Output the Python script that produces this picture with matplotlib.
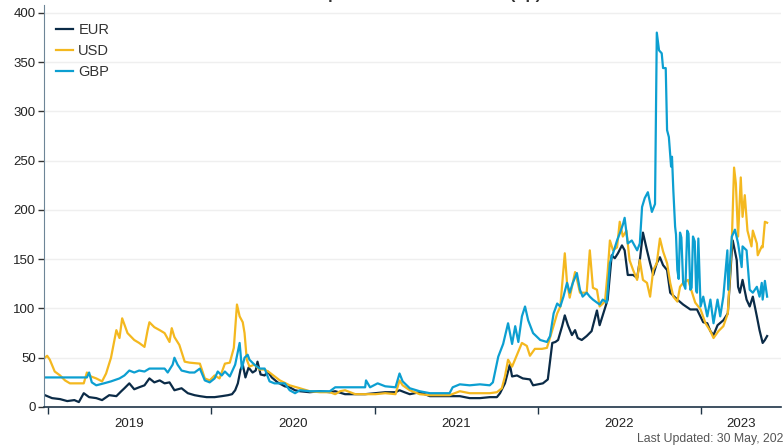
import matplotlib
matplotlib.use("Agg")
import matplotlib.pyplot as plt
import pandas as pd

# spreads in bp
eur_dates = [
    "2018-12-25", "2019-01-10", "2019-01-28", "2019-02-13", "2019-03-01", "2019-03-11",
    "2019-03-22", "2019-04-03", "2019-04-19", "2019-05-02", "2019-05-18", "2019-06-03",
    "2019-06-14", "2019-06-21", "2019-07-02", "2019-07-13", "2019-07-24", "2019-08-05",
    "2019-08-16", "2019-08-27", "2019-09-08", "2019-09-19", "2019-09-30", "2019-10-11",
    "2019-10-27", "2019-11-10", "2019-11-25", "2019-12-07", "2019-12-22", "2020-01-09",
    "2020-01-25", "2020-02-08", "2020-02-17", "2020-02-24", "2020-03-01", "2020-03-07",
    "2020-03-12", "2020-03-18", "2020-03-25", "2020-04-03", "2020-04-10", "2020-04-14",
    "2020-04-21", "2020-04-30", "2020-05-07", "2020-05-16", "2020-05-29", "2020-06-14",
    "2020-06-25", "2020-07-07", "2020-07-18", "2020-08-09", "2020-09-01", "2020-09-23",
    "2020-10-05", "2020-10-27", "2020-11-19", "2020-12-11", "2021-01-03", "2021-01-25",
    "2021-02-17", "2021-02-26", "2021-03-09", "2021-03-21", "2021-04-12", "2021-05-05",
    "2021-05-27", "2021-06-18", "2021-07-11", "2021-08-02", "2021-08-25", "2021-09-16",
    "2021-10-02", "2021-10-09", "2021-10-20", "2021-10-31", "2021-11-05", "2021-11-16",
    "2021-11-29", "2021-12-15", "2021-12-22", "2022-01-13", "2022-01-24", "2022-02-03",
    "2022-02-10", "2022-02-16", "2022-02-25", "2022-03-03", "2022-03-10", "2022-03-19",
    "2022-03-26", "2022-04-01", "2022-04-10", "2022-04-21", "2022-05-02", "2022-05-14",
    "2022-05-20", "2022-05-27", "2022-06-07", "2022-06-16", "2022-06-23", "2022-06-30",
    "2022-07-09", "2022-07-15", "2022-07-22", "2022-08-03", "2022-08-12", "2022-08-18",
    "2022-08-25", "2022-09-03", "2022-09-10", "2022-09-17", "2022-09-25", "2022-10-02",
    "2022-10-09", "2022-10-18", "2022-10-25", "2022-11-10", "2022-11-23", "2022-12-09",
    "2022-12-24", "2023-01-07", "2023-01-16", "2023-01-23", "2023-01-30", "2023-02-08",
    "2023-02-21", "2023-03-03", "2023-03-12", "2023-03-14", "2023-03-23", "2023-03-26",
    "2023-03-30", "2023-04-05", "2023-04-14", "2023-04-21", "2023-04-28", "2023-05-07",
    "2023-05-13", "2023-05-20", "2023-05-25", "2023-05-30",
]
eur_bp = [
    12, 9, 8, 6, 7, 5, 14, 10, 9, 7, 12, 11,
    16, 19, 24, 18, 20, 22, 29, 25, 27, 24, 25, 17,
    19, 14, 12, 11, 10, 10, 11, 12, 13, 17, 24, 38,
    43, 30, 40, 35, 37, 46, 33, 32, 36, 30, 25, 21,
    20, 17, 16, 15, 16, 15, 16, 13, 13, 13, 14, 15,
    15, 17, 15, 13, 15, 11, 11, 11, 11, 9, 9, 10,
    10, 14, 24, 43, 31, 32, 29, 28, 22, 24, 28, 65,
    66, 68, 82, 93, 83, 73, 78, 70, 68, 72, 77, 98,
    83, 93, 109, 154, 151, 156, 164, 159, 134, 134, 131, 149,
    177, 159, 146, 134, 146, 152, 144, 139, 116, 109, 104, 99,
    99, 86, 85, 77, 73, 83, 88, 95, 159, 169, 149, 122,
    116, 129, 109, 102, 112, 92, 78, 65, 68, 72,
]

usd_dates = [
    "2018-12-25", "2018-12-30", "2019-01-05", "2019-01-16", "2019-01-28", "2019-02-08",
    "2019-02-19", "2019-03-01", "2019-03-12", "2019-03-22", "2019-03-29", "2019-04-07",
    "2019-04-19", "2019-05-02", "2019-05-11", "2019-05-22", "2019-06-03", "2019-06-10",
    "2019-06-16", "2019-06-28", "2019-07-13", "2019-07-24", "2019-08-05", "2019-08-12",
    "2019-08-16", "2019-08-27", "2019-09-08", "2019-09-19", "2019-09-30", "2019-10-05",
    "2019-10-11", "2019-10-22", "2019-11-03", "2019-11-14", "2019-12-07", "2019-12-18",
    "2019-12-29", "2020-01-09", "2020-01-20", "2020-02-01", "2020-02-12", "2020-02-21",
    "2020-02-28", "2020-03-05", "2020-03-12", "2020-03-16", "2020-03-21", "2020-03-27",
    "2020-04-07", "2020-04-19", "2020-04-30", "2020-05-11", "2020-06-03", "2020-06-25",
    "2020-07-18", "2020-08-09", "2020-09-01", "2020-09-23", "2020-10-05", "2020-10-16",
    "2020-10-27", "2020-11-19", "2020-12-11", "2021-01-03", "2021-01-25", "2021-02-17",
    "2021-02-26", "2021-03-05", "2021-03-21", "2021-04-12", "2021-05-05", "2021-05-27",
    "2021-06-18", "2021-07-11", "2021-08-02", "2021-08-25", "2021-09-16", "2021-10-02",
    "2021-10-13", "2021-10-20", "2021-10-27", "2021-11-05", "2021-11-16", "2021-11-27",
    "2021-12-08", "2021-12-15", "2021-12-26", "2022-01-11", "2022-01-22", "2022-02-03",
    "2022-02-14", "2022-02-21", "2022-03-03", "2022-03-08", "2022-03-14", "2022-03-26",
    "2022-03-30", "2022-04-06", "2022-04-21", "2022-04-28", "2022-05-05", "2022-05-14",
    "2022-05-20", "2022-06-01", "2022-06-07", "2022-06-12", "2022-06-19", "2022-06-28",
    "2022-07-04", "2022-07-11", "2022-07-19", "2022-07-26", "2022-08-03", "2022-08-12",
    "2022-08-18", "2022-08-25", "2022-09-03", "2022-09-10", "2022-09-17", "2022-09-25",
    "2022-10-02", "2022-10-09", "2022-10-18", "2022-10-25", "2022-11-01", "2022-11-10",
    "2022-11-16", "2022-11-23", "2022-12-04", "2022-12-13", "2022-12-20", "2023-01-01",
    "2023-01-12", "2023-01-23", "2023-01-30", "2023-02-10", "2023-02-21", "2023-03-03",
    "2023-03-12", "2023-03-17", "2023-03-21", "2023-03-26", "2023-04-01", "2023-04-05",
    "2023-04-10", "2023-04-16", "2023-04-25", "2023-04-28", "2023-05-07", "2023-05-09",
    "2023-05-18", "2023-05-20", "2023-05-25", "2023-05-30",
]
usd_bp = [
    50, 52, 48, 36, 32, 27, 24, 24, 24, 24, 35, 31,
    29, 26, 34, 50, 78, 70, 90, 75, 68, 65, 61, 78,
    86, 81, 78, 75, 66, 80, 71, 63, 46, 45, 44, 29,
    27, 32, 29, 44, 45, 60, 104, 92, 86, 75, 48, 41,
    43, 38, 38, 35, 27, 22, 19, 16, 15, 15, 13, 16,
    17, 13, 13, 13, 14, 13, 27, 22, 17, 13, 12, 12,
    12, 16, 14, 14, 14, 15, 19, 31, 48, 41, 53, 65,
    62, 52, 59, 59, 60, 78, 95, 102, 156, 126, 111, 137,
    130, 116, 116, 159, 121, 119, 102, 107, 137, 169, 159, 162,
    188, 173, 179, 149, 139, 129, 149, 129, 126, 112, 139, 146,
    171, 158, 146, 126, 112, 107, 122, 126, 129, 116, 106, 99,
    85, 77, 70, 77, 82, 95, 169, 243, 227, 173, 233, 193,
    215, 179, 163, 179, 166, 154, 163, 162, 188, 187,
]

gbp_dates = [
    "2018-12-25", "2019-01-28", "2019-03-01", "2019-03-29", "2019-04-03", "2019-04-09",
    "2019-04-19", "2019-05-06", "2019-05-22", "2019-06-10", "2019-06-21", "2019-07-02",
    "2019-07-13", "2019-07-24", "2019-08-05", "2019-08-16", "2019-09-04", "2019-09-19",
    "2019-09-26", "2019-10-07", "2019-10-11", "2019-10-18", "2019-10-27", "2019-11-14",
    "2019-11-25", "2019-12-07", "2019-12-18", "2019-12-29", "2020-01-09", "2020-01-16",
    "2020-01-25", "2020-02-01", "2020-02-12", "2020-02-24", "2020-03-05", "2020-03-10",
    "2020-03-16", "2020-03-23", "2020-03-27", "2020-04-07", "2020-04-19", "2020-04-30",
    "2020-05-11", "2020-05-22", "2020-06-14", "2020-06-25", "2020-07-07", "2020-07-18",
    "2020-08-09", "2020-09-01", "2020-09-23", "2020-10-05", "2020-10-27", "2020-11-19",
    "2020-12-11", "2020-12-13", "2020-12-22", "2021-01-08", "2021-01-25", "2021-02-17",
    "2021-02-26", "2021-03-05", "2021-03-21", "2021-04-12", "2021-05-05", "2021-05-27",
    "2021-06-18", "2021-06-25", "2021-07-11", "2021-08-02", "2021-08-25", "2021-09-16",
    "2021-09-23", "2021-10-05", "2021-10-16", "2021-10-27", "2021-11-05", "2021-11-12",
    "2021-11-19", "2021-11-27", "2021-12-04", "2021-12-11", "2021-12-22", "2022-01-07",
    "2022-01-22", "2022-01-29", "2022-02-06", "2022-02-14", "2022-02-21", "2022-02-28",
    "2022-03-08", "2022-03-14", "2022-03-21", "2022-03-30", "2022-04-06", "2022-04-12",
    "2022-04-21", "2022-04-28", "2022-05-05", "2022-05-14", "2022-05-20", "2022-05-27",
    "2022-06-05", "2022-06-12", "2022-06-19", "2022-06-28", "2022-07-04", "2022-07-11",
    "2022-07-15", "2022-07-22", "2022-07-31", "2022-08-12", "2022-08-18", "2022-08-23",
    "2022-08-29", "2022-09-05", "2022-09-14", "2022-09-21", "2022-09-25", "2022-09-30",
    "2022-10-06", "2022-10-09", "2022-10-15", "2022-10-18", "2022-10-22", "2022-10-27",
    "2022-10-29", "2022-11-01", "2022-11-05", "2022-11-07", "2022-11-10", "2022-11-13",
    "2022-11-16", "2022-11-19", "2022-11-23", "2022-11-28", "2022-12-02", "2022-12-05",
    "2022-12-09", "2022-12-12", "2022-12-15", "2022-12-19", "2022-12-22", "2022-12-24",
    "2022-12-27", "2023-01-01", "2023-01-07", "2023-01-16", "2023-01-23", "2023-01-30",
    "2023-02-08", "2023-02-14", "2023-02-21", "2023-03-02", "2023-03-04", "2023-03-12",
    "2023-03-19", "2023-03-26", "2023-04-03", "2023-04-05", "2023-04-14", "2023-04-21",
    "2023-04-28", "2023-05-07", "2023-05-13", "2023-05-18", "2023-05-20", "2023-05-25",
    "2023-05-30",
]
gbp_bp = [
    30, 30, 30, 30, 35, 25, 22, 24, 26, 29, 32, 37,
    35, 37, 36, 39, 39, 39, 35, 43, 50, 43, 37, 35,
    35, 39, 27, 25, 29, 36, 32, 36, 31, 43, 65, 39,
    50, 53, 48, 43, 39, 39, 26, 24, 24, 17, 14, 17,
    16, 16, 16, 20, 20, 20, 20, 27, 20, 24, 21, 20,
    34, 26, 19, 16, 14, 14, 14, 20, 23, 22, 23, 22,
    25, 51, 64, 85, 64, 82, 66, 92, 102, 88, 75, 68,
    66, 72, 95, 105, 102, 112, 126, 116, 126, 136, 119, 112,
    116, 112, 109, 106, 104, 109, 106, 146, 156, 169, 176, 185,
    192, 166, 169, 159, 166, 203, 212, 218, 198, 206, 380, 362,
    359, 344, 344, 281, 274, 244, 254, 220, 183, 175, 139, 130,
    177, 172, 126, 120, 179, 176, 119, 121, 173, 168, 118, 116,
    171, 102, 112, 92, 109, 85, 109, 92, 112, 159, 119, 173,
    180, 166, 142, 163, 159, 119, 116, 122, 112, 126, 109, 128,
    112,
]

series = [
    ("EUR", eur_dates, eur_bp, "#0b2b47"),
    ("USD", usd_dates, usd_bp, "#f4b81f"),
    ("GBP", gbp_dates, gbp_bp, "#0c9fd1"),
]

year_starts = ["2019-01-01", "2020-01-01", "2021-01-01", "2022-01-01", "2023-01-01"]
year_labels = ["2019", "2020", "2021", "2022", "2023"]
x_start, x_end = "2018-12-23", "2023-06-30"

plt.rcParams["font.family"] = ["Liberation Sans", "DejaVu Sans"]

fig = plt.figure(figsize=(7.83, 4.47), dpi=100)
ax = fig.add_axes([0.0562, 0.0895, 0.9412, 0.8993])

for name, d, v, c in series:
    ax.plot(pd.to_datetime(d), v, color=c, lw=1.6, label=name)

ax.set_ylim(0, 408)
ax.set_yticks(range(0, 401, 50))
ax.grid(axis="y", color="#efefef", lw=1)
ax.set_axisbelow(True)

x0, x1 = pd.Timestamp(x_start), pd.Timestamp(x_end)
ax.set_xlim(x0, x1)
starts = pd.to_datetime(year_starts)
ax.set_xticks(starts)
ax.set_xticklabels([])
# year labels centred on the visible part of each year
ends = list(starts[1:]) + [x1]
mids = [s + (e - s) / 2 for s, e in zip(starts, ends)]
ax.set_xticks(mids, minor=True)
ax.set_xticklabels(year_labels, minor=True)
ax.tick_params(axis="x", which="major", length=5, width=1, color="#1f3447", direction="out")
ax.tick_params(axis="x", which="minor", length=0, pad=8, labelsize=9.5, labelcolor="#222222")
ax.tick_params(axis="y", length=4, width=1, color="#333333", pad=2, labelsize=9.5, labelcolor="#222222")

for s in ["top", "right"]:
    ax.spines[s].set_visible(False)
ax.spines["left"].set_color("#6d8597")
ax.spines["bottom"].set_color("#1f3447")
ax.spines["bottom"].set_linewidth(1.2)

leg = ax.legend(loc="upper left", bbox_to_anchor=(0.008, 0.97), frameon=False,
                fontsize=10.5, handlelength=1.2, handletextpad=0.35,
                labelspacing=0.5, borderaxespad=0)
for t in leg.get_texts():
    t.set_color("#333333")

fig.text(0.814, 0.004, "Last Updated: 30 May, 2023", fontsize=8.8, color="#555555",
         ha="left", va="bottom")
fig.text(0.405, 1.003, "Spreads vs. Benchmark (bp)", fontsize=12, fontweight="bold",
         color="#333333", ha="left", va="baseline")

fig.savefig("out.png", dpi=100)
